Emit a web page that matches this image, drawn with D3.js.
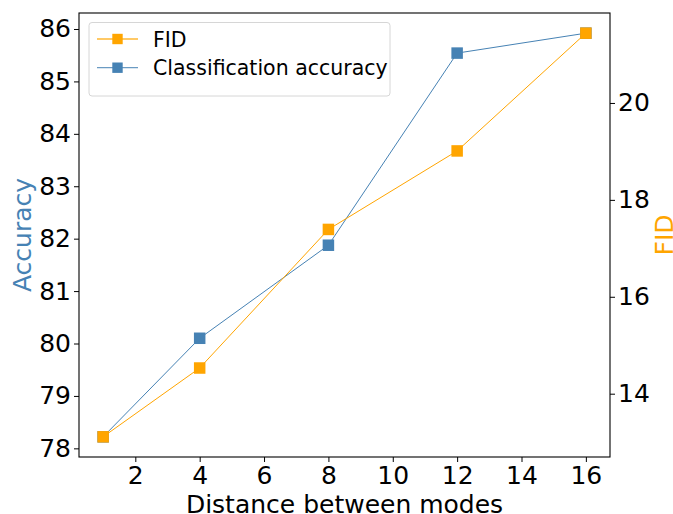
<!DOCTYPE html>
<html>
<head>
<meta charset="utf-8">
<script src="https://cdn.jsdelivr.net/npm/d3@7"></script>
<style>
  html, body { margin: 0; padding: 0; background: #fff; }
  svg { display: block; font-family: "DejaVu Sans", sans-serif; }
</style>
</head>
<body>
<svg id="chart" width="673" height="514"></svg>
<script>
// Distance between the two modes
const distances = [1, 4, 8, 12, 16];
// Classification accuracy (left axis)
const accuracy = [78.22, 80.10, 81.875, 85.54, 85.92];
// FID (right axis)
const fid = [13.11, 14.53, 17.39, 19.01, 21.44];

const xTicks = [2, 4, 6, 8, 10, 12, 14, 16];
const accTicks = [78, 79, 80, 81, 82, 83, 84, 85, 86];
const fidTicks = [14, 16, 18, 20];

const blue = "#4682b4";
const orange = "#ffa500";

const svg = d3.select("#chart");
const plotLeft = 79, plotRight = 610, plotTop = 13, plotBottom = 457;

// pad each domain by 5% of its extent on both sides
function padded(values) {
  const [lo, hi] = d3.extent(values);
  const p = (hi - lo) * 0.05;
  return [lo - p, hi + p];
}

const x = d3.scaleLinear().domain(padded(distances)).range([plotLeft, plotRight]);
const yAcc = d3.scaleLinear().domain(padded(accuracy)).range([plotBottom, plotTop]);
const yFid = d3.scaleLinear().domain(padded(fid)).range([plotBottom, plotTop]);

const tickFont = 25;

function styleAxis(g) {
  g.selectAll("path.domain").remove();
  g.selectAll(".tick line").attr("stroke", "#000").attr("stroke-width", 1);
  g.selectAll(".tick text")
    .attr("fill", "#000")
    .style("font-size", tickFont + "px")
    .style("font-family", "DejaVu Sans, sans-serif");
}

// x axis
svg.append("g")
  .attr("transform", `translate(0,${plotBottom})`)
  .call(d3.axisBottom(x).tickValues(xTicks).tickSize(5).tickPadding(4).tickFormat(d3.format("d")))
  .call(styleAxis);

// left axis (accuracy)
svg.append("g")
  .attr("transform", `translate(${plotLeft},0)`)
  .call(d3.axisLeft(yAcc).tickValues(accTicks).tickSize(5).tickPadding(3).tickFormat(d3.format("d")))
  .call(styleAxis);

// right axis (FID)
svg.append("g")
  .attr("transform", `translate(${plotRight},0)`)
  .call(d3.axisRight(yFid).tickValues(fidTicks).tickSize(5).tickPadding(3).tickFormat(d3.format("d")))
  .call(styleAxis);

// frame
svg.append("rect")
  .attr("x", plotLeft).attr("y", plotTop)
  .attr("width", plotRight - plotLeft).attr("height", plotBottom - plotTop)
  .attr("fill", "none").attr("stroke", "#000").attr("stroke-width", 1.1);

const msize = 11.5;

function drawSeries(values, yScale, color) {
  const pts = distances.map((d, i) => [d, values[i]]);
  svg.append("path")
    .datum(pts)
    .attr("fill", "none")
    .attr("stroke", color)
    .attr("stroke-width", 1)
    .attr("d", d3.line().x(d => x(d[0])).y(d => yScale(d[1])));
  svg.append("g").selectAll("rect")
    .data(pts)
    .join("rect")
    .attr("x", d => x(d[0]) - msize / 2)
    .attr("y", d => yScale(d[1]) - msize / 2)
    .attr("width", msize).attr("height", msize)
    .attr("fill", color);
}

drawSeries(accuracy, yAcc, blue);
drawSeries(fid, yFid, orange);

// axis titles
svg.append("text")
  .attr("transform", `translate(31,${(plotTop + plotBottom) / 2}) rotate(-90)`)
  .attr("text-anchor", "middle")
  .attr("fill", blue)
  .style("font-size", "25px")
  .text("Accuracy");

svg.append("text")
  .attr("transform", `translate(672.5,${(plotTop + plotBottom) / 2}) rotate(-90)`)
  .attr("text-anchor", "middle")
  .attr("fill", orange)
  .style("font-size", "25px")
  .text("FID");

svg.append("text")
  .attr("x", (plotLeft + plotRight) / 2)
  .attr("y", 512.5)
  .attr("text-anchor", "middle")
  .attr("fill", "#000")
  .style("font-size", "25px")
  .text("Distance between modes");

// legend
const legendItems = [
  { label: "FID", color: orange },
  { label: "Classification accuracy", color: blue }
];
const lg = svg.append("g");
lg.append("rect")
  .attr("x", 89).attr("y", 22.5)
  .attr("width", 301).attr("height", 73.5)
  .attr("rx", 3)
  .attr("fill", "#fff").attr("fill-opacity", 0.8)
  .attr("stroke", "#d6d6d6").attr("stroke-width", 1);
legendItems.forEach((item, i) => {
  const cy = 39 + i * 28.7;
  lg.append("line")
    .attr("x1", 97).attr("x2", 138)
    .attr("y1", cy).attr("y2", cy)
    .attr("stroke", item.color).attr("stroke-width", 1.3)
    .attr("stroke-opacity", 0.8);
  lg.append("rect")
    .attr("x", 117.5 - 5.2).attr("y", cy - 5.2)
    .attr("width", 10.4).attr("height", 10.4)
    .attr("fill", item.color);
  lg.append("text")
    .attr("x", 153).attr("y", cy + 7.5)
    .attr("fill", "#000")
    .style("font-size", "20.5px")
    .text(item.label);
});
</script>
</body>
</html>
